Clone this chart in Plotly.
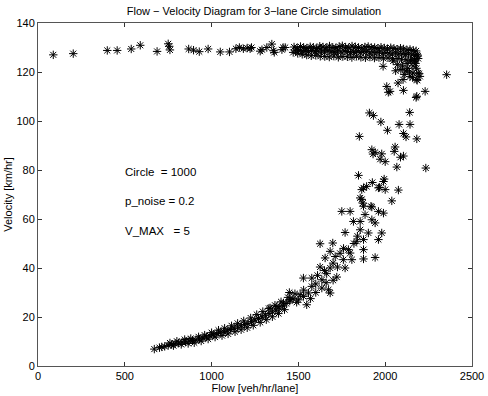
import plotly.graph_objects as go

# free-flow branch (sparse points)
flow_free = [88, 203, 399, 456, 537, 589, 686, 750, 756, 760, 868, 896, 929, 980,
             1050, 1103, 1140, 1160, 1183, 1205, 1222, 1230, 1280, 1290, 1318, 1347,
             1357, 1361, 1405, 1412, 1424]
vel_free = [127.0, 127.5, 128.8, 128.8, 129.4, 130.9, 128.4, 131.5, 130.5, 129.0, 129.4,
            128.9, 128.3, 129.4, 128.2, 128.2, 129.5, 130.0, 129.5, 129.8, 129.5, 130.0,
            128.5, 129.1, 130.0, 131.4, 128.7, 128.0, 129.1, 130.0, 130.0]

# dense band near capacity (three rows)
flow_band_a = [1475, 1493, 1512, 1530, 1549, 1568, 1586, 1605, 1623, 1642, 1660, 1679, 1698,
               1716, 1735, 1753, 1772, 1790, 1809, 1828, 1846, 1865, 1883, 1902, 1920, 1939,
               1958, 1976, 1995, 2013, 2032, 2050, 2069, 2088, 2106, 2125, 2143, 2162, 2178]
vel_band_a = [130.2, 129.8, 130.4, 130.0, 129.7, 130.3, 130.1, 129.6, 130.5, 130.2, 129.9,
              130.6, 130.0, 129.8, 130.4, 130.7, 130.1, 129.9, 130.6, 130.3, 130.0, 129.7,
              130.2, 130.4, 129.9, 130.0, 129.6, 130.1, 129.8, 129.5, 129.9, 129.6, 129.3,
              129.7, 129.4, 129.0, 129.2, 128.8, 128.6]
flow_band_b = [1484, 1502, 1521, 1540, 1558, 1577, 1595, 1614, 1633, 1651, 1670, 1688, 1707,
               1725, 1744, 1763, 1781, 1800, 1818, 1837, 1856, 1874, 1893, 1911, 1930, 1948,
               1967, 1986, 2004, 2023, 2041, 2060, 2078, 2097, 2116, 2134, 2153, 2170, 2188]
vel_band_b = [128.6, 128.9, 128.3, 128.7, 128.4, 128.8, 128.2, 128.6, 128.5, 128.1, 128.7,
              128.3, 128.0, 128.5, 128.2, 128.6, 128.4, 128.0, 128.3, 128.5, 127.9, 128.2,
              128.4, 127.8, 128.1, 127.9, 128.2, 127.6, 127.9, 127.7, 127.4, 127.8, 127.3,
              127.5, 127.1, 127.4, 127.0, 126.8, 126.5]
flow_band_c = [1470, 1496, 1522, 1548, 1574, 1600, 1626, 1652, 1678, 1704, 1730, 1756, 1782,
               1808, 1834, 1860, 1886, 1912, 1938, 1964, 1990, 2016, 2042, 2068, 2094, 2120,
               2146, 2172]
vel_band_c = [128.0, 127.6, 127.2, 126.9, 126.6, 126.8, 126.4, 126.3, 126.1, 126.5, 126.0,
              126.3, 126.2, 125.9, 126.4, 126.0, 125.8, 126.1, 125.7, 125.9, 125.6, 125.8,
              125.4, 125.5, 125.2, 125.0, 124.8, 124.6]

# transition / breakdown branch
flow_drop = [1988, 2046, 2070, 2100, 2126, 2150, 2170, 2074, 2103, 2143, 2160, 2190, 2182,
             2200, 2195, 2158, 2184, 2354, 2120, 2180, 2090, 2130, 2160, 2110, 2140, 2060,
             2175, 2190, 2185,
             2009, 2028, 2018, 2105, 2182, 2230, 2178,
             1909, 1932, 2141, 1975, 2080, 2143, 2013, 1851, 2105, 2120, 2182,
             1923, 1942, 1930, 1980, 1971, 2000, 2057, 2052, 2088, 2105, 2067, 2234,
             1846, 1994, 1990, 1926, 1893, 1875, 1865, 1961, 1967, 2000, 2076,
             1856, 1865, 1871, 1923, 2038, 1875, 1918,
             1750, 1798, 1961, 1990, 1884, 1817, 1856, 1923, 1942,
             1856, 1903, 1769, 1980, 1836, 1961, 1875, 1625, 1698,
             1683, 1788, 1798, 1875, 1875, 1942, 1654, 1712, 1759, 1808,
             1625, 1683, 1725, 1769, 1663, 1721, 1529, 1577, 1635,
             1577, 1635, 1673, 1683, 1558, 1529, 1510, 1448, 1452, 1490, 1548, 1414, 1376, 1337,
             1600, 1610, 1650, 1700, 1740, 1760, 1820, 1840, 1700, 1660, 1600, 1570, 1500,
             1480, 1530, 1470]
vel_drop = [122.3, 124.5, 123.0, 122.5, 123.5, 124.5, 125.0, 115.5, 116.9, 118.2, 119.6,
            119.6, 116.9, 118.2, 119.3, 117.7, 116.6, 118.9, 120.5, 121.5, 121.0, 121.5,
            122.5, 119.0, 120.0, 120.5, 123.5, 125.5, 127.0,
            114.1, 112.1, 111.7, 112.5, 110.1, 112.1, 109.6,
            103.3, 102.2, 103.5, 99.6, 98.6, 98.6, 96.2, 93.7, 94.9, 93.5, 92.7,
            88.3, 87.2, 86.5, 86.6, 84.4, 83.4, 89.4, 87.6, 85.2, 85.7, 81.2, 80.8,
            77.8, 76.3, 75.3, 74.9, 73.3, 72.7, 72.0, 72.7, 72.9, 72.0, 71.8,
            68.6, 68.0, 66.5, 64.9, 67.4, 65.2, 65.2,
            63.1, 63.1, 63.1, 62.4, 61.8, 59.0, 59.0, 59.7, 58.4,
            55.6, 54.3, 54.5, 54.3, 50.9, 51.6, 51.6, 49.9, 50.2,
            46.8, 47.5, 46.1, 47.5, 43.7, 44.3, 44.1, 44.7, 43.4, 43.4,
            40.4, 40.0, 40.4, 40.0, 37.7, 36.3, 35.9, 35.9, 35.2,
            32.5, 31.8, 31.1, 29.8, 29.8, 28.4, 29.1, 30.0, 27.1, 26.0, 25.0, 25.7, 24.3, 23.7,
            33.5, 37.0, 39.0, 42.0, 46.0, 48.0, 50.0, 53.0, 35.0, 34.0, 30.0, 27.5, 27.0,
            29.5, 31.0, 27.5]

# congested branch (centre, upper and lower rows of the band)
flow_jam = [670, 700, 713, 730, 750, 770, 790, 810, 830, 850, 870, 890, 910, 930, 950, 970,
            990, 1010, 1030, 1050, 1070, 1090, 1110, 1130, 1150, 1170, 1190, 1210, 1230,
            1250, 1270, 1290, 1310, 1330, 1350, 1370, 1390, 1410, 1430, 1450]
vel_jam = [6.9, 7.5, 7.8, 8.0, 8.4, 8.8, 9.1, 9.4, 9.7, 9.9, 10.2, 10.4, 10.7, 11.0, 11.4,
           11.9, 12.3, 12.8, 13.2, 13.6, 14.0, 14.4, 14.9, 15.4, 15.9, 16.4, 16.9, 17.4,
           18.1, 18.8, 19.4, 20.0, 20.7, 21.4, 22.1, 22.8, 23.6, 24.5, 25.5, 26.5]
flow_jam_hi = [760, 800, 845, 880, 925, 960, 1000, 1040, 1075, 1115, 1150, 1185, 1225, 1260,
               1295, 1330, 1365, 1400, 1440]
vel_jam_hi = [9.4, 10.1, 10.8, 11.2, 11.9, 12.6, 13.6, 14.6, 15.4, 16.4, 17.4, 18.4, 19.6,
              21.0, 22.2, 23.5, 24.8, 26.2, 28.0]
flow_jam_lo = [780, 825, 865, 900, 940, 980, 1020, 1060, 1095, 1135, 1170, 1205, 1240, 1280,
               1315, 1350, 1385, 1420]
vel_jam_lo = [8.3, 8.8, 9.2, 9.5, 10.2, 11.0, 11.8, 12.4, 13.1, 14.0, 14.8, 15.6, 16.6, 17.8,
              18.9, 20.1, 21.4, 23.0]

flow = (flow_free + flow_band_a + flow_band_b + flow_band_c + flow_drop
        + flow_jam + flow_jam_hi + flow_jam_lo)
vel = (vel_free + vel_band_a + vel_band_b + vel_band_c + vel_drop
       + vel_jam + vel_jam_hi + vel_jam_lo)

notes = ["Circle  = 1000", "p_noise = 0.2", "V_MAX   = 5"]
note_y = [79.3, 67.5, 55.2]

FONT = "Liberation Sans, Arial, sans-serif"
FS = 11

fig = go.Figure()
fig.add_trace(go.Scatter(
    x=flow, y=vel, mode="markers",
    marker=dict(symbol="asterisk-open", size=7, color="black",
                line=dict(width=1, color="black")),
    showlegend=False))

for t, yy in zip(notes, note_y):
    fig.add_annotation(x=490, y=yy, text=t, showarrow=False, xanchor="left",
                       font=dict(size=11.5, color="black", family=FONT))

axis_style = dict(showline=True, linecolor="#555", linewidth=1, mirror="ticks",
                  ticks="inside", ticklen=4, tickcolor="#333", showgrid=False,
                  zeroline=False, automargin=False,
                  tickfont=dict(size=FS, color="black", family=FONT))

fig.update_xaxes(range=[0, 2500], tickvals=[0, 500, 1000, 1500, 2000, 2500],
                 title=dict(text="Flow [veh/hr/lane]", standoff=2,
                            font=dict(size=FS, color="black", family=FONT)),
                 **axis_style)
fig.update_yaxes(range=[0, 140], tickvals=[0, 20, 40, 60, 80, 100, 120, 140],
                 title=dict(text="Velocity [km/hr]", standoff=1,
                            font=dict(size=FS, color="black", family=FONT)),
                 **axis_style)

fig.update_layout(
    title=dict(text="Flow \u2212 Velocity Diagram for 3\u2212lane Circle simulation",
               x=0.5205, xanchor="center", y=0.972, yanchor="middle",
               font=dict(size=FS, color="black", family=FONT)),
    width=488, height=396,
    margin=dict(l=38, r=16, t=23, b=30, autoexpand=False),
    paper_bgcolor="white", plot_bgcolor="white",
    font=dict(family=FONT, color="black"))

# page body has a default 8px margin; drop it so the figure sits at the window origin
fig.write_html("out.html", config={"displayModeBar": False},
               post_script="document.body.style.margin='0';")
